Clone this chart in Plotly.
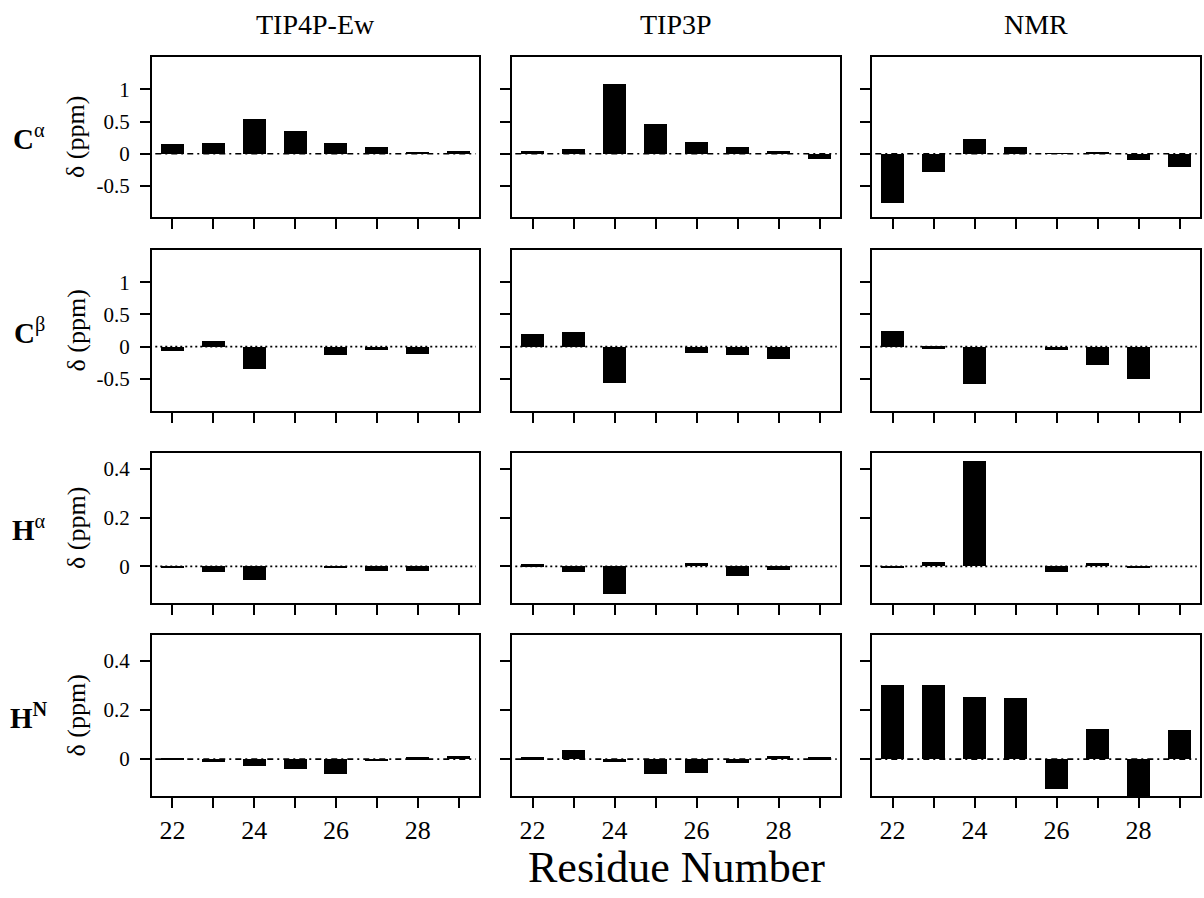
import plotly.graph_objects as go
from plotly.subplots import make_subplots

residues = [22, 23, 24, 25, 26, 27, 28, 29]
columns = ["TIP4P-Ew", "TIP3P", "NMR"]
row_labels = ["<b>C</b><sup>α</sup>", "<b>C</b><sup>β</sup>", "<b>H</b><sup>α</sup>", "<b>H<sup>N</sup></b>"]

# Cα
ca_tip4pew = [0.15, 0.16, 0.54, 0.35, 0.17, 0.10, 0.02, 0.05]
ca_tip3p = [0.04, 0.07, 1.08, 0.46, 0.18, 0.11, 0.05, -0.08]
ca_nmr = [-0.77, -0.28, 0.23, 0.10, 0.01, 0.02, -0.09, -0.20]
# Cβ (Gly 25, 29 have none)
cb_tip4pew = [-0.07, 0.09, -0.35, None, -0.13, -0.06, -0.12, None]
cb_tip3p = [0.20, 0.23, -0.56, None, -0.10, -0.13, -0.19, None]
cb_nmr = [0.25, -0.03, -0.58, None, -0.045, -0.29, -0.51, None]
# Hα
ha_tip4pew = [-0.008, -0.024, -0.054, None, -0.008, -0.019, -0.019, None]
ha_tip3p = [0.008, -0.024, -0.115, None, 0.012, -0.038, -0.013, None]
ha_nmr = [-0.005, 0.02, 0.434, None, -0.023, 0.012, -0.006, None]
# HN
hn_tip4pew = [0.002, -0.01, -0.028, -0.04, -0.06, -0.009, 0.008, 0.012]
hn_tip3p = [0.008, 0.038, -0.01, -0.06, -0.055, -0.015, 0.012, 0.008]
hn_nmr = [0.303, 0.30, 0.253, 0.25, -0.12, 0.124, -0.17, 0.118]

data = [
    [ca_tip4pew, ca_tip3p, ca_nmr],
    [cb_tip4pew, cb_tip3p, cb_nmr],
    [ha_tip4pew, ha_tip3p, ha_nmr],
    [hn_tip4pew, hn_tip3p, hn_nmr],
]

y_ranges = [[-0.98, 1.5], [-1.0, 1.5], [-0.15, 0.465], [-0.15, 0.505]]
y_ticks = [[-0.5, 0, 0.5, 1], [-0.5, 0, 0.5, 1], [0, 0.2, 0.4], [0, 0.2, 0.4]]
y_ticktext = [["-0.5", "0", "0.5", "1"], ["-0.5", "0", "0.5", "1"], ["0", "0.2", "0.4"], ["0", "0.2", "0.4"]]
x_major = [22, 24, 26, 28]
x_major_text = ["22", "24", "26", "28"]
x_minor = [23, 25, 27, 29]
zero_dash = ["6px,4px,2px,4px", "2px,3px", "2px,3px", "6px,4px,2px,4px"]

W, H = 1204, 898
col_px = [(152, 479), (512, 840), (872, 1200)]
row_px = [(57, 217), (250, 411), (453, 603), (635, 796)]

FONT = "Liberation Serif"

fig = make_subplots(rows=4, cols=3)

for r in range(4):
    for c in range(3):
        fig.add_trace(go.Bar(x=residues, y=data[r][c], width=0.56,
                             marker=dict(color="black", line=dict(width=0)),
                             showlegend=False, hoverinfo="x+y"),
                      row=r + 1, col=c + 1)
        idx = r * 3 + c + 1
        xa = "xaxis" if idx == 1 else f"xaxis{idx}"
        ya = "yaxis" if idx == 1 else f"yaxis{idx}"
        x0, x1 = col_px[c]
        y0, y1 = row_px[r]
        fig.layout[xa].update(
            domain=[x0 / W, x1 / W], range=[21.5, 29.5],
            tickmode="array", tickvals=x_major, ticktext=x_major_text,
            showticklabels=(r == 3), ticks="outside", ticklen=10, tickwidth=2,
            tickcolor="black", showline=True, linecolor="black", linewidth=2,
            mirror=True, showgrid=False, zeroline=False,
            minor=dict(tickmode="array", tickvals=x_minor, ticks="outside",
                       ticklen=10, tickwidth=2, tickcolor="black", showgrid=False),
            tickfont=dict(family=FONT, size=26, color="black"))
        fig.layout[ya].update(
            domain=[1 - y1 / H, 1 - y0 / H], range=y_ranges[r],
            tickmode="array", tickvals=y_ticks[r], ticktext=y_ticktext[r],
            showticklabels=(c == 0), ticks="outside", ticklen=10, tickwidth=2,
            tickcolor="black", showline=True, linecolor="black", linewidth=2,
            mirror=True, showgrid=False, zeroline=False, ticklabelstandoff=6,
            tickfont=dict(family=FONT, size=21, color="black"))
        xref = "x" if idx == 1 else f"x{idx}"
        yref = "y" if idx == 1 else f"y{idx}"
        fig.add_shape(type="line", xref=f"{xref} domain", yref=yref,
                      x0=0.01, x1=0.99, y0=0, y1=0, layer="below",
                      line=dict(color="black", width=1.6, dash=zero_dash[r]))

annotations = []
for c, name in enumerate(columns):
    x0, x1 = col_px[c]
    annotations.append(dict(text=name, x=(x0 + x1) / 2 / W, y=1 - 25 / H,
                            xref="paper", yref="paper", showarrow=False,
                            xanchor="center", yanchor="middle",
                            font=dict(family=FONT, size=28, color="black")))
for r, lab in enumerate(row_labels):
    y0, y1 = row_px[r]
    yc = (y0 + y1) / 2
    annotations.append(dict(text=lab, x=29 / W, y=1 - yc / H,
                            xref="paper", yref="paper", showarrow=False,
                            xanchor="center", yanchor="middle",
                            font=dict(family=FONT, size=29, color="black")))
    annotations.append(dict(text="δ (ppm)", x=76 / W, y=1 - yc / H,
                            xref="paper", yref="paper", showarrow=False,
                            textangle=-90, xanchor="center", yanchor="middle",
                            font=dict(family=FONT, size=26, color="black")))
annotations.append(dict(text="Residue Number", x=676 / W, y=1 - 867 / H,
                        xref="paper", yref="paper", showarrow=False,
                        xanchor="center", yanchor="middle",
                        font=dict(family=FONT, size=44, color="black")))

fig.update_layout(width=W, height=H, margin=dict(l=0, r=0, t=0, b=0),
                  paper_bgcolor="white", plot_bgcolor="white",
                  annotations=annotations, bargap=0)

fig.write_html("out.html", config={"displayModeBar": False},
               post_script="document.body.style.margin='0px';document.body.style.overflow='hidden';")
